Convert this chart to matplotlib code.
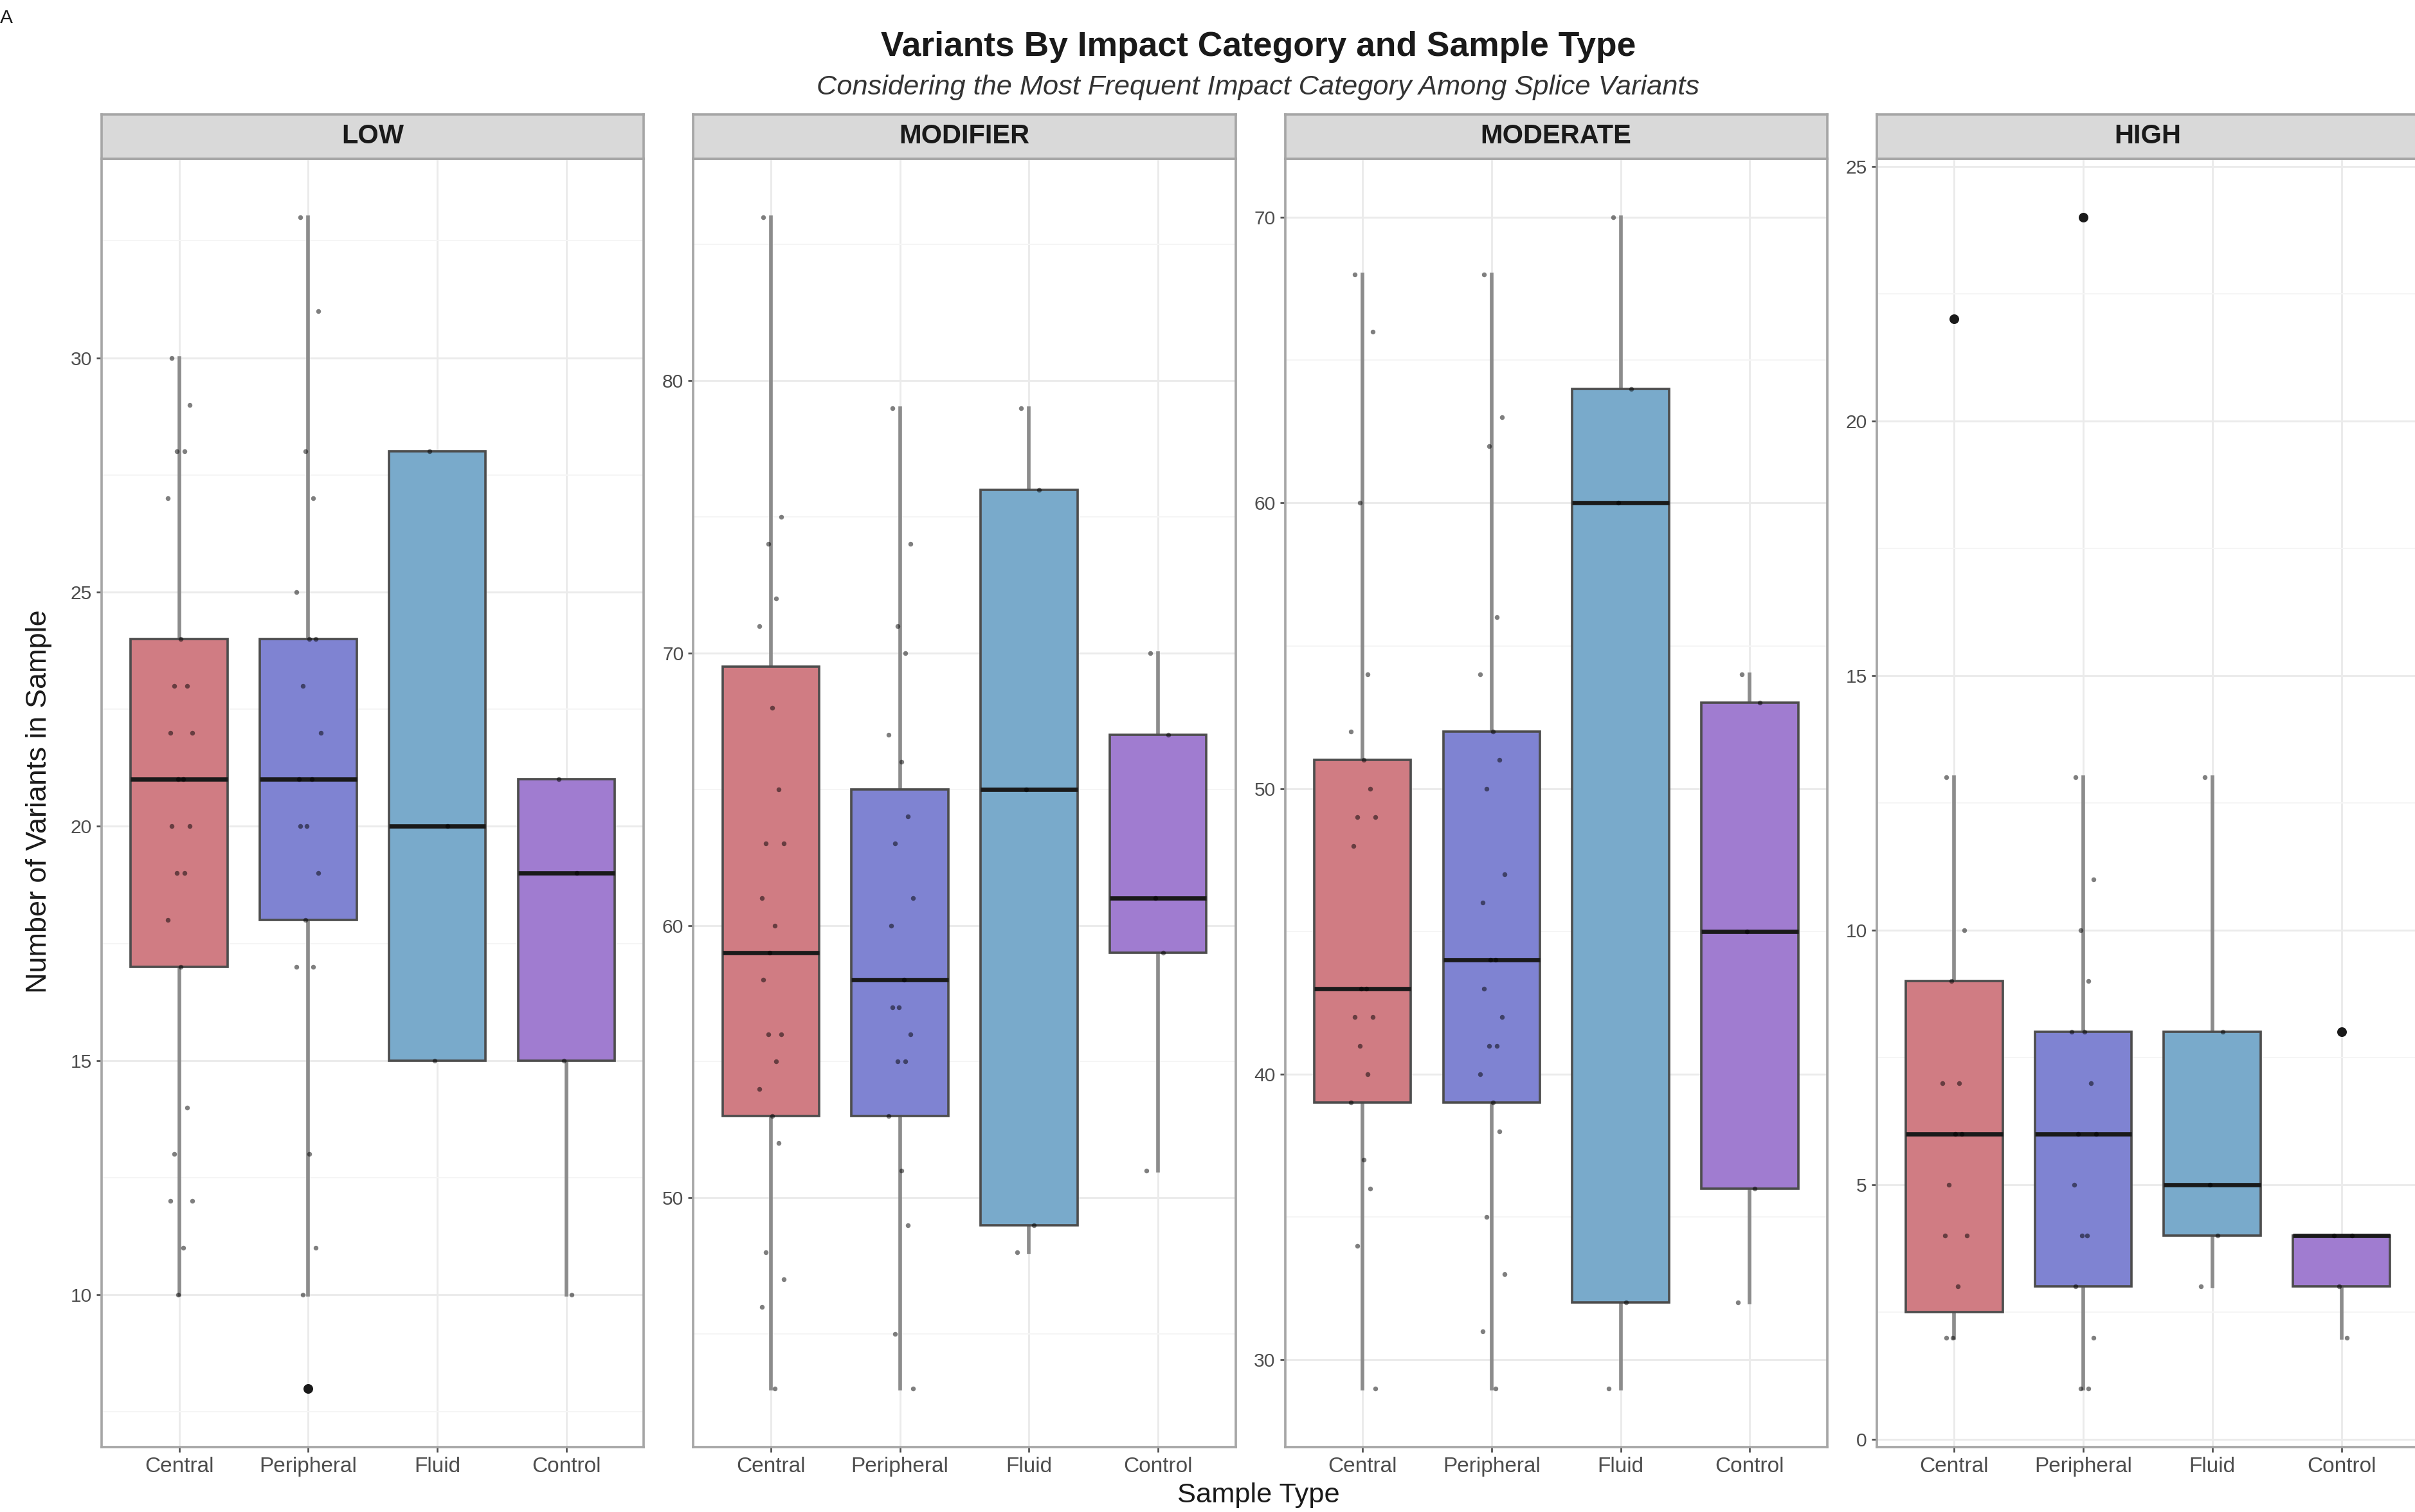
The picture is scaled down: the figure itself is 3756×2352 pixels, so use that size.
import matplotlib.pyplot as plt
import numpy as np

plt.rcParams['font.family'] = ['Liberation Sans', 'DejaVu Sans']

SAMPLE_TYPES = ['Central', 'Peripheral', 'Fluid', 'Control']
IMPACTS = ['LOW', 'MODIFIER', 'MODERATE', 'HIGH']
FILLS = ['#D07C83', '#7F83D2', '#79AACB', '#A07CD0']

# box summaries, one tuple per sample type: (q1, median, q3, whisker_lo, whisker_hi)
LOW_BOXES = [(17, 21, 24, 10, 30), (18, 21, 24, 10, 33), (15, 20, 28, 15, 28), (15, 19, 21, 10, 21)]
MODIFIER_BOXES = [(53, 59, 69.5, 43, 86), (53, 58, 65, 43, 79), (49, 65, 76, 48, 79), (59, 61, 67, 51, 70)]
MODERATE_BOXES = [(39, 43, 51, 29, 68), (39, 44, 52, 29, 68), (32, 60, 64, 29, 70), (36, 45, 53, 32, 54)]
HIGH_BOXES = [(2.5, 6, 9, 2, 13), (3, 6, 8, 1, 13), (4, 5, 8, 3, 13), (3, 4, 4, 2, 4)]

LOW_OUTLIERS = [[], [8], [], []]
MODIFIER_OUTLIERS = [[], [], [], []]
MODERATE_OUTLIERS = [[], [], [], []]
HIGH_OUTLIERS = [[22], [24], [], [8]]

# per-sample counts
LOW_POINTS = [
    [30, 29, 28, 28, 27, 24, 23, 23, 22, 22, 21, 21, 20, 20, 19, 19, 18, 17, 14, 13, 12, 12, 11, 10],
    [33, 31, 28, 27, 25, 24, 24, 23, 22, 21, 21, 20, 20, 19, 18, 17, 17, 13, 11, 10],
    [28, 20, 15],
    [21, 19, 15, 10],
]
MODIFIER_POINTS = [
    [86, 75, 74, 72, 71, 68, 65, 63, 63, 61, 60, 59, 58, 56, 56, 55, 54, 53, 52, 48, 47, 46, 43],
    [79, 74, 71, 70, 67, 66, 64, 63, 61, 60, 58, 57, 57, 56, 55, 55, 53, 51, 49, 45, 43],
    [79, 76, 65, 49, 48],
    [70, 67, 61, 59, 51],
]
MODERATE_POINTS = [
    [68, 66, 60, 54, 52, 51, 50, 49, 49, 48, 43, 43, 42, 42, 41, 40, 39, 37, 36, 34, 29],
    [68, 63, 62, 56, 54, 52, 51, 50, 47, 46, 44, 44, 43, 42, 41, 41, 40, 39, 38, 35, 33, 31, 29],
    [70, 64, 60, 32, 29],
    [54, 53, 45, 36, 32],
]
HIGH_POINTS = [
    [13, 10, 9, 7, 7, 6, 6, 5, 4, 4, 3, 2, 2],
    [13, 11, 10, 9, 8, 8, 7, 6, 6, 5, 4, 4, 3, 2, 1, 1],
    [13, 8, 5, 4, 3],
    [4, 4, 3, 2],
]

LOW_TICKS = [10, 15, 20, 25, 30]
MODIFIER_TICKS = [50, 60, 70, 80]
MODERATE_TICKS = [30, 40, 50, 60, 70]
HIGH_TICKS = [0, 5, 10, 15, 20, 25]

PANELS = [
    (LOW_BOXES, LOW_OUTLIERS, LOW_POINTS, LOW_TICKS),
    (MODIFIER_BOXES, MODIFIER_OUTLIERS, MODIFIER_POINTS, MODIFIER_TICKS),
    (MODERATE_BOXES, MODERATE_OUTLIERS, MODERATE_POINTS, MODERATE_TICKS),
    (HIGH_BOXES, HIGH_OUTLIERS, HIGH_POINTS, HIGH_TICKS),
]

# fixed horizontal spread pattern for the sample dots
JITTER = [-0.06, 0.08, -0.02, 0.04, -0.09, 0.01, 0.06, -0.04, 0.1, -0.07, 0.03, -0.01]

fig = plt.figure(figsize=(15.65, 9.8), dpi=240)

left0, step, width = 0.0421, 0.245, 0.2245
bottom, top = 0.043, 0.895
strip_h = 0.0295

for i, (impact, (boxes, outliers, points, ticks)) in enumerate(zip(IMPACTS, PANELS)):
    ax = fig.add_axes([left0 + i * step, bottom, width, top - bottom])
    stats = []
    for (q1, med, q3, lo, hi), fl in zip(boxes, outliers):
        stats.append(dict(q1=q1, med=med, q3=q3, whislo=lo, whishi=hi, fliers=fl))
    pos = np.arange(1, 5)

    bp = ax.bxp(stats, positions=pos, widths=0.75, patch_artist=True, showcaps=False,
                manage_ticks=False,
                boxprops=dict(edgecolor='#4D4D4D', linewidth=1.1),
                whiskerprops=dict(color='#8C8C8C', linewidth=1.7),
                medianprops=dict(color='#1A1A1A', linewidth=2.0),
                flierprops=dict(marker='o', markerfacecolor='#1A1A1A', markeredgecolor='#1A1A1A',
                                markersize=3.5))
    for patch, c in zip(bp['boxes'], FILLS):
        patch.set_facecolor(c)
        patch.set_zorder(2)
    for w in bp['whiskers']:
        w.set_zorder(1.5)

    for p, grp in zip(pos, points):
        xs = [p + JITTER[k % len(JITTER)] for k in range(len(grp))]
        ax.scatter(xs, grp, s=5, color='black', alpha=0.5, lw=0, zorder=3)

    # grid
    ax.set_yticks(ticks)
    half = (ticks[1] - ticks[0]) / 2
    minor = [t + half for t in ticks] + [ticks[0] - half]
    ax.set_yticks(minor, minor=True)
    ax.set_xticks(pos)
    ax.set_xticklabels(SAMPLE_TYPES, fontsize=10, color='#4D4D4D')
    ax.grid(which='major', color='#EBEBEB', lw=0.9, zorder=0)
    ax.grid(which='minor', axis='y', color='#F5F5F5', lw=0.6, zorder=0)
    ax.set_axisbelow(True)

    # ggplot-like 5% expansion on the data range (set after ticks so it sticks)
    vals = [b[3] for b in boxes] + [b[4] for b in boxes] + [v for fl in outliers for v in fl]
    lo, hi = min(vals), max(vals)
    pad = (hi - lo) * 0.05
    ax.set_ylim(lo - pad, hi + pad)
    ax.set_xlim(0.4, 4.6)

    ax.tick_params(axis='y', labelsize=9, labelcolor='#4D4D4D', length=2.5, color='#4D4D4D', pad=2)
    ax.tick_params(axis='x', length=2.5, color='#4D4D4D', pad=2)
    ax.tick_params(which='minor', length=0)
    for s in ax.spines.values():
        s.set_color('#A6A6A6')
        s.set_linewidth(1.1)

    # facet strip
    sax = fig.add_axes([left0 + i * step, top, width, strip_h])
    sax.set_facecolor('#D9D9D9')
    sax.set_xticks([])
    sax.set_yticks([])
    for s in sax.spines.values():
        s.set_color('#A6A6A6')
        s.set_linewidth(1.1)
    sax.text(0.5, 0.5, impact, ha='center', va='center', fontsize=12.5,
             fontweight='bold', color='#1A1A1A', transform=sax.transAxes)

fig.text(0.521, 0.969, 'Variants By Impact Category and Sample Type', ha='center', va='center',
         fontsize=16, fontweight='bold', color='#1A1A1A')
fig.text(0.521, 0.942, 'Considering the Most Frequent Impact Category Among Splice Variants',
         ha='center', va='center', fontsize=13, style='italic', color='#333333')
fig.text(0.016, 0.47, 'Number of Variants in Sample', rotation=90, ha='center', va='center',
         fontsize=13.5, color='#1A1A1A')
fig.text(0.521, 0.011, 'Sample Type', ha='center', va='center', fontsize=13, color='#1A1A1A')
fig.text(0.0, 0.988, 'A', ha='left', va='center', fontsize=9, color='#1A1A1A')

fig.savefig('out.png', dpi=240, facecolor='white')
